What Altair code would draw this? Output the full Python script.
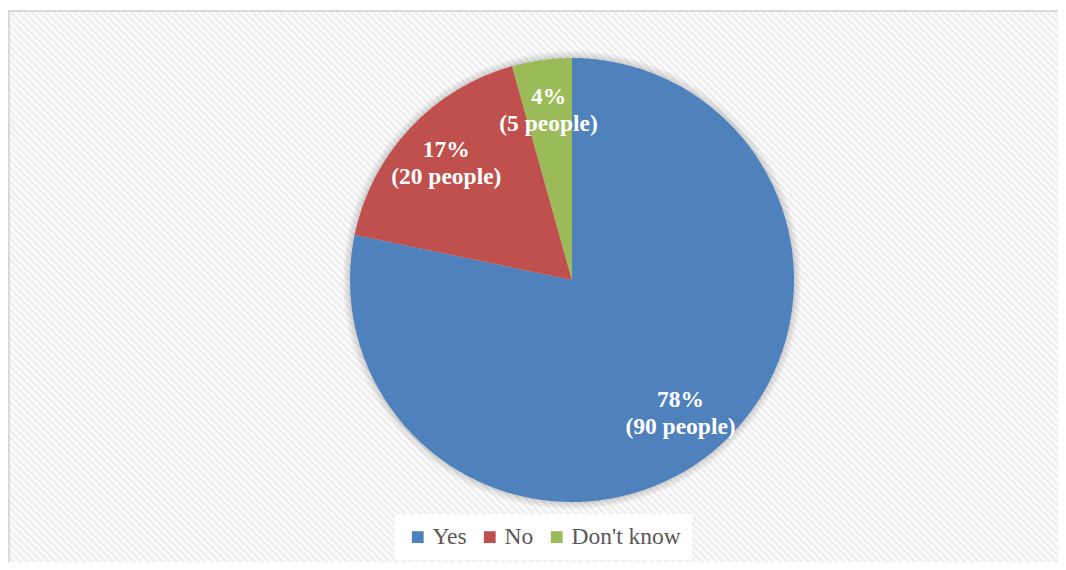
import altair as alt
import pandas as pd

categories = ["Yes", "No", "Don't know"]
counts = [90, 20, 5]
percents = ["78%", "17%", "4%"]
people = ["(90 people)", "(20 people)", "(5 people)"]
colors = ["#4F81BD", "#C0504D", "#9BBB59"]

df = pd.DataFrame({
    "cat": categories,
    "n": counts,
    "idx": list(range(len(categories))),
    "label": [p + "\n" + q for p, q in zip(percents, people)],
})

W, H = 1049, 551
CX, CY = 563, 269
R = 222
BW, BH = W + 20, H + 20  # background frame extends past the visible edges

# diagonal hatch background via a many-stop linear gradient
period = 5.0
span = (BW + BH) / 2 ** 0.5
nper = int(span / period)
stops = []
for i in range(nper + 1):
    stops.append({"offset": min(1.0, i / nper), "color": "#ffffff"})
    if i < nper:
        stops.append({"offset": min(1.0, (i + 0.5) / nper), "color": "#ebebeb"})
hr = BH / BW
d2 = 1 + hr * hr
tmax = (1 + hr) / d2
grad = {
    "gradient": "linear",
    "x1": 0, "y1": 1,
    "x2": tmax, "y2": 1 - hr * tmax,
    "stops": stops,
}

bg = alt.Chart(pd.DataFrame({"a": [0]})).mark_rect(
    color=grad, stroke="#d9d9d9", strokeWidth=2
).encode(
    x=alt.value(0), x2=alt.value(BW), y=alt.value(0), y2=alt.value(BH)
)

base = alt.Chart(df)

shadows = [
    alt.Chart(pd.DataFrame({"a": [0]})).mark_arc(
        radius=R + k, theta=0, theta2=6.2832, color="#000000", opacity=0.04
    ).encode(x=alt.value(CX), y=alt.value(CY))
    for k in (7, 5, 3, 1.5)
]

color_scale = alt.Scale(domain=categories, range=colors)

pie = base.mark_arc(radius=R).encode(
    x=alt.value(CX), y=alt.value(CY),
    theta=alt.Theta("n:Q", stack=True),
    order=alt.Order("idx:Q"),
    color=alt.Color(
        "cat:N", scale=color_scale, sort=categories,
        legend=alt.Legend(
            title=None, orient="none", direction="horizontal",
            legendX=386, legendY=503,
            fillColor="#ffffff", padding=11,
            symbolType="square", symbolSize=140, symbolStrokeWidth=0,
            labelFont="Liberation Serif", labelFontSize=23.5, labelColor="#595959",
            labelOffset=3, columnPadding=11, symbolOpacity=1,
        ),
    ),
)

text = base.mark_text(
    radius=172, lineBreak="\n", font="Liberation Serif", fontSize=23.5,
    fontWeight="bold", color="#ffffff", lineHeight=27, baseline="middle",
    align="center", dy=-13,
).encode(
    x=alt.value(CX), y=alt.value(CY),
    theta=alt.Theta("n:Q", stack=True),
    order=alt.Order("idx:Q"),
    text="label:N",
)

chart = alt.layer(bg, *shadows, pie, text).properties(
    width=W, height=H,
    padding={"left": 1, "top": 3, "right": 0, "bottom": 0},
    autosize="none",
).configure_view(strokeWidth=0)

chart.save("out.html", embed_options={"renderer": "svg", "actions": False})
